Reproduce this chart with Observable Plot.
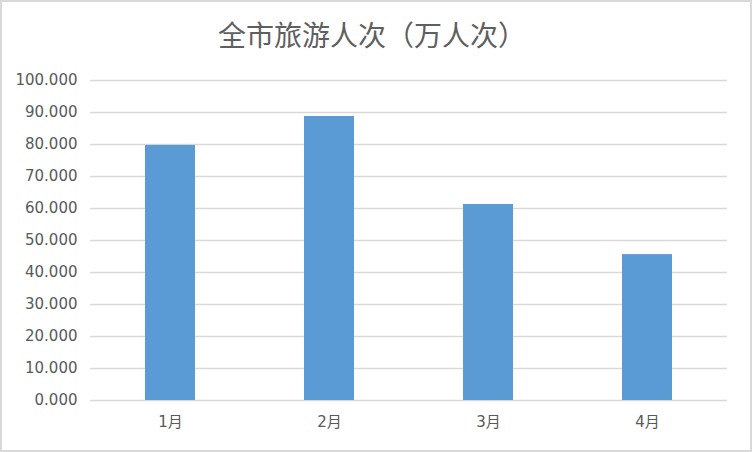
<!DOCTYPE html>
<html>
<head>
<meta charset="utf-8">
<script src="https://cdn.jsdelivr.net/npm/d3@7"></script>
<script src="https://cdn.jsdelivr.net/npm/@observablehq/plot@0.6"></script>
<style>
  html, body { margin: 0; padding: 0; background: #fff; }
  #wrap { position: relative; width: 752px; height: 452px; box-sizing: border-box; border: 2px solid #d9d9d9; background: #fff; overflow: hidden; }
  #title { position: absolute; left: -6px; width: 752px; top: 17px; text-align: center; font-family: "Noto Sans CJK SC", sans-serif; font-size: 28px; line-height: 30px; color: #5f5f5f; }
  #chart { position: absolute; left: 0; top: 58px; }
</style>
</head>
<body>
<div id="wrap">
  <div id="title">全市旅游人次（万人次）</div>
  <div id="chart"></div>
</div>
<script>
const months = ["1月", "2月", "3月", "4月"];
const visitors = [79.7, 88.75, 61.25, 45.6];
const yTicks = [0, 10, 20, 30, 40, 50, 60, 70, 80, 90, 100];

const data = months.map((m, i) => ({month: m, value: visitors[i]}));

const chart = Plot.plot({
  width: 748,
  height: 390,
  marginLeft: 88,
  marginRight: 23,
  marginTop: 20,
  marginBottom: 50,
  style: {fontFamily: "'DejaVu Sans', 'Noto Sans CJK SC', sans-serif", fontSize: "15px", color: "#595959", background: "#fff"},
  x: {domain: months, paddingInner: 0.686, paddingOuter: 0.343, label: null, tickSize: 0, tickPadding: 16},
  y: {domain: [0, 100], ticks: yTicks, label: null, tickSize: 0, tickPadding: 13, tickFormat: d3.format(".3f")},
  marks: [
    Plot.ruleY(yTicks, {stroke: "#d9d9d9", strokeWidth: 1.3}),
    Plot.barY(data, {x: "month", y: "value", fill: "#5b9bd5"}),
    Plot.axisY({ticks: yTicks, tickSize: 0, tickPadding: 13, tickFormat: d3.format(".3f"), label: null, fill: "#595959", fontSize: 15}),
    Plot.axisX({tickSize: 0, tickPadding: 16, label: null, fill: "#595959", fontSize: 15})
  ]
});
document.getElementById("chart").appendChild(chart);
</script>
</body>
</html>
